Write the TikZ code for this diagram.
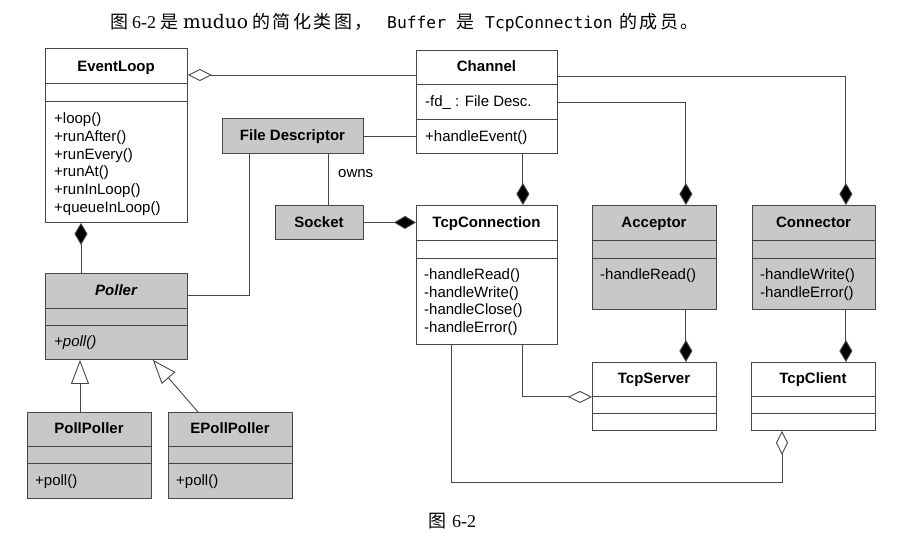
\documentclass[tikz,border=0pt]{standalone}
\usepackage{fontspec}
\setmainfont{Liberation Sans}
\newfontfamily\cjk[LetterSpace=14]{Noto Sans CJK SC}
\newfontfamily\capmono{DejaVu Sans Mono}
\newfontfamily\capslab{DejaVu Serif}
\newfontfamily\capserif{Liberation Serif}
\usetikzlibrary{arrows.meta}
\definecolor{boxgray}{RGB}{200,200,200}
\definecolor{linec}{RGB}{70,70,70}
\newcommand\divs[3]{\draw[boxline] (#1.west |- 0,#2) -- (#1.east |- 0,#2); \draw[boxline] (#1.west |- 0,#3) -- (#1.east |- 0,#3);}
\begin{document}
\begin{tikzpicture}[x=1pt,y=-1pt,
  boxline/.style={draw=linec, line width=0.9pt},
  umlbox/.style={boxline, anchor=north west, inner sep=0pt, fill=white},
  grayfill/.style={fill=boxgray},
  title/.style={font=\fontsize{15}{18}\selectfont\bfseries, anchor=base, inner sep=0pt},
  member/.style={font=\fontsize{15}{18}\selectfont, anchor=base west, inner sep=0pt},
  conn/.style={draw=linec, line width=0.9pt},
  comp/.style={-{Diamond[length=22pt,width=13pt,fill=black]}},
  agg/.style={-{Diamond[open,length=24pt,width=12pt,fill=white]}},
  gen/.style={-{Triangle[open,length=24pt,width=18pt,fill=white]}},
  capcjk/.style={font=\cjk\fontsize{18}{22}\selectfont, anchor=base west, inner sep=0pt},
  capnum/.style={font=\capserif\fontsize{18}{22}\selectfont, anchor=base west, inner sep=0pt},
  capcode/.style={font=\capmono\fontsize{16.3}{20}\selectfont, anchor=base west, inner sep=0pt}
]
\fill[white] (0,0) rectangle (903,544);
\useasboundingbox (0,0) rectangle (903,544);

% caption line
\node[capcjk] (c1) at (110.5,28.5) {图};
\node[capnum] (c2) at (132,28.5) {6-2};
\node[capcjk] (c3) at (160,28.5) {是};
\node[capcode, font=\capslab\fontsize{18.7}{22}\selectfont] (c4) at (183,28.5) {muduo};
\node[capcjk] (c5) at (252,28.5) {的简化类图，};
\node[capcode] (c6) at (387,28.5) {Buffer};
\node[capcjk] (c7) at (456,28.5) {是};
\node[capcode] (c8) at (485,28.5) {TcpConnection};
\node[capcjk] (c9) at (619,28.5) {的成员。};
% figure label
\node[capcjk] (f1) at (428,527) {图};
\node[capnum] (f2) at (452,527) {6-2};

% boxes
\node[umlbox, minimum width=142pt, minimum height=174pt] (ev) at (45,48) {};
\node[umlbox, minimum width=141pt, minimum height=103pt] (ch) at (416,50) {};
\node[umlbox, grayfill, minimum width=141pt, minimum height=35pt] (fd) at (222,118) {};
\node[umlbox, grayfill, minimum width=88pt, minimum height=34pt] (sock) at (275,205) {};
\node[umlbox, minimum width=141pt, minimum height=139pt] (tc) at (416,205) {};
\node[umlbox, grayfill, minimum width=124pt, minimum height=104pt] (acc) at (592,205) {};
\node[umlbox, grayfill, minimum width=123pt, minimum height=104pt] (con) at (752,205) {};
\node[umlbox, minimum width=124pt, minimum height=68pt] (srv) at (592,362) {};
\node[umlbox, minimum width=124pt, minimum height=68pt] (cli) at (751,362) {};
\node[umlbox, grayfill, minimum width=142pt, minimum height=86pt] (pol) at (45,273) {};
\node[umlbox, grayfill, minimum width=124pt, minimum height=86pt] (pp) at (27,412) {};
\node[umlbox, grayfill, minimum width=124pt, minimum height=86pt] (epp) at (168,412) {};

% compartments
\divs{ev}{83}{101}
\divs{ch}{84}{119}
\divs{tc}{240}{258}
\divs{acc}{240}{258}
\divs{con}{240}{258}
\divs{srv}{396}{413}
\divs{cli}{396}{413}
\divs{pol}{308}{325}
\divs{pp}{446}{463}
\divs{epp}{446}{463}

% titles
\node[title] (ev-t) at (116,71.5) {EventLoop};
\node[title] (ch-t) at (486.5,71.5) {Channel};
\node[title] (fd-t) at (292.5,140.5) {File Descriptor};
\node[title] (sock-t) at (319,227) {Socket};
\node[title] (tc-t) at (486.5,227.5) {TcpConnection};
\node[title] (acc-t) at (654,227.5) {Acceptor};
\node[title] (con-t) at (813.5,227.5) {Connector};
\node[title] (srv-t) at (654,383.5) {TcpServer};
\node[title] (cli-t) at (813,383.5) {TcpClient};
\node[title, font=\fontsize{15}{18}\selectfont\bfseries\itshape] (pol-t) at (116,295.5) {Poller};
\node[title] (pp-t) at (89,433.5) {PollPoller};
\node[title] (epp-t) at (230,433.5) {EPollPoller};

% members
\foreach \t [count=\i] in {+loop(),+runAfter(),+runEvery(),+runAt(),+runInLoop(),+queueInLoop()}
  \node[member] (ev-m\i) at (54,{105.3+17.9*\i}) {\t};
\node[member] (ch-a1) at (425,106) {-fd\_ : File Desc.};
\node[member] (ch-m1) at (425,141) {+handleEvent()};
\foreach \t [count=\i] in {-handleRead(),-handleWrite(),-handleClose(),-handleError()}
  \node[member] (tc-m\i) at (424,{262+17.6*\i}) {\t};
\node[member] (acc-m1) at (600,279.6) {-handleRead()};
\node[member] (con-m1) at (760,279.6) {-handleWrite()};
\node[member] (con-m2) at (760,297.2) {-handleError()};
\node[member, font=\fontsize{15}{18}\selectfont\itshape] (pol-m1) at (54,346.5) {+poll()};
\node[member] (pp-m1) at (35,485) {+poll()};
\node[member] (epp-m1) at (176,485) {+poll()};

% connectors
\draw[conn, agg] ([yshift=-25pt]ch.north west) -- ([yshift=-27pt]ev.north east);
\draw[conn, comp] ([yshift=-26pt]ch.north east) -| ([xshift=-30pt]con.north east);
\draw[conn, comp] ([yshift=-52pt]ch.north east) -| ([xshift=-31pt]acc.north east);
\draw[conn, comp] ([xshift=-35pt]ch.south east) -- ([xshift=-35pt]tc.north east);
\draw[conn] (fd.east) -- (fd.east -| ch.west);
\draw[conn] ([xshift=-35pt]fd.south east) -- ([xshift=-35pt]sock.north east);
\node[member, font=\fontsize{15}{18}\selectfont] (owns) at (338,177) {owns};
\draw[conn] ([xshift=27pt]fd.south west) |- ([yshift=-22pt]pol.north east);
\draw[conn, comp] (sock.east) -- (sock.east -| tc.west);
\draw[conn, comp] ([xshift=36pt]pol.north west) -- ([xshift=36pt]ev.south west);
\draw[conn, comp] ([xshift=-31pt]acc.south east) -- ([xshift=-31pt]srv.north east);
\draw[conn, comp] ([xshift=-30pt]con.south east) -- ([xshift=-30pt]cli.north east);
\draw[conn, agg] ([xshift=-35pt]tc.south east) |- ([yshift=34pt]srv.south west);
\coordinate (lowbend) at (451,482);
\draw[conn, agg] ([xshift=35pt]tc.south west) -- (lowbend) -| ([xshift=31pt]cli.south west);
\draw[conn, gen] ([xshift=53pt]pp.north west) -- ([xshift=35pt]pol.south west);
\draw[conn, gen] ([xshift=30pt]epp.north west) -- ([xshift=-35pt]pol.south east);
\end{tikzpicture}
\end{document}
